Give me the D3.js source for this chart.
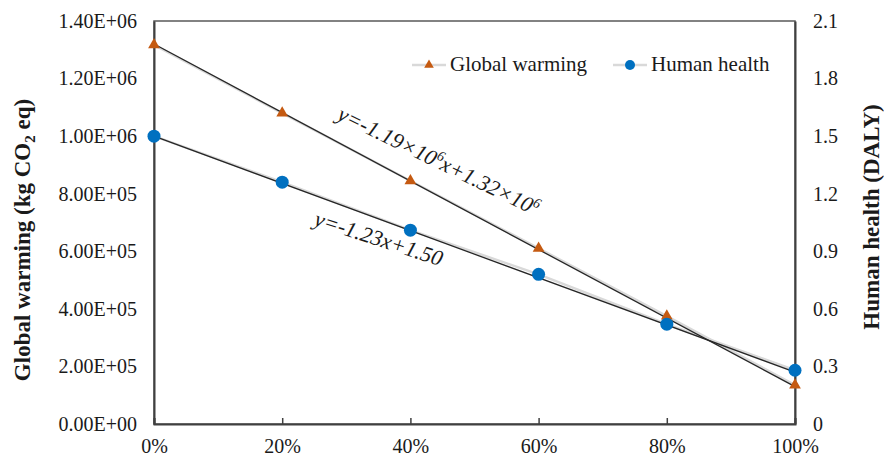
<!DOCTYPE html>
<html>
<head>
<meta charset="utf-8">
<script src="https://cdn.jsdelivr.net/npm/d3@7"></script>
<style>
  body { margin: 0; background: #fff; }
  text { font-family: "Liberation Serif", "Times New Roman", serif; fill: #1a1a1a; }
</style>
</head>
<body>
<svg id="chart" width="884" height="456"></svg>
<script>
// Data
var shares = [0, 0.2, 0.4, 0.6, 0.8, 1.0]
var shareLabels = ['0%', '20%', '40%', '60%', '80%', '100%']
var warming = [1.317e6, 1.08e6, 8.45e5, 6.1e5, 3.75e5, 1.35e5]
var health = [1.50, 1.26, 1.01, 0.78, 0.52, 0.28]
var leftTicks = [0, 2e5, 4e5, 6e5, 8e5, 1e6, 1.2e6, 1.4e6]
var rightTicks = [0, 0.3, 0.6, 0.9, 1.2, 1.5, 1.8, 2.1]
// trendline coefficients shown on the chart [slope, intercept]
var warmingFit = [-1.19e6, 1.32e6]
var healthFit = [-1.23, 1.50]

var svg = d3.select('#chart')
var plotL = 154, plotR = 795, plotT = 21, plotB = 424

var x = d3.scaleLinear().domain([0, 1]).range([plotL, plotR])
var yL = d3.scaleLinear().domain([0, 1.4e6]).range([plotB, plotT])
var yR = d3.scaleLinear().domain([0, 2.1]).range([plotB, plotT])

var orange = '#c55a11', blue = '#0070c0'

// frame
svg.append('rect')
  .attr('x', plotL).attr('y', plotT)
  .attr('width', plotR - plotL).attr('height', plotB - plotT)
  .attr('fill', 'none').attr('stroke', '#595959').attr('stroke-width', 1.5)

// left axis
var axL = svg.append('g').attr('transform', 'translate(' + plotL + ',0)')
  .call(d3.axisLeft(yL).tickValues(leftTicks).tickSize(0).tickPadding(17)
    .tickFormat(function (d) {
      var s = d.toExponential(2).toUpperCase()
      return s.replace(/E([+-])(\d)$/, 'E$10$2')
    }))
axL.select('.domain').attr('stroke', '#404040').attr('stroke-width', 2)
axL.selectAll('text').style('font-size', '20px').attr('fill', '#1a1a1a')

// right axis
var axR = svg.append('g').attr('transform', 'translate(' + plotR + ',0)')
  .call(d3.axisRight(yR).tickValues(rightTicks).tickSize(0).tickPadding(18)
    .tickFormat(function (d) { return d === 0 ? '0' : d3.format('.1f')(d) }))
axR.select('.domain').attr('stroke', '#404040').attr('stroke-width', 2)
axR.selectAll('text').style('font-size', '20px').attr('fill', '#1a1a1a')

// bottom axis, ticks pointing inward
var axB = svg.append('g').attr('transform', 'translate(0,' + plotB + ')')
  .call(d3.axisBottom(x).tickValues(shares).tickSize(-6).tickPadding(14)
    .tickFormat(function (d, i) { return shareLabels[i] }))
axB.select('.domain').attr('stroke', '#404040').attr('stroke-width', 2)
axB.selectAll('line').attr('stroke', '#404040').attr('stroke-width', 1.5)
axB.selectAll('text').style('font-size', '20px').attr('fill', '#1a1a1a').attr('dy', '0.75em')

// axis titles
var tl = svg.append('text')
  .attr('transform', 'translate(30,240) rotate(-90)')
  .attr('text-anchor', 'middle')
  .style('font-size', '23px').style('font-weight', 'bold')
tl.append('tspan').text('Global warming (kg CO')
tl.append('tspan').text('2').style('font-size', '15px').attr('dy', 5)
tl.append('tspan').text(' eq)').attr('dy', -5)

svg.append('text')
  .attr('transform', 'translate(879,217) rotate(-90)')
  .attr('text-anchor', 'middle')
  .style('font-size', '23px').style('font-weight', 'bold')
  .text('Human health (DALY)')

// series lines (light gray)
var lineL = d3.line().x(function (d, i) { return x(shares[i]) }).y(function (d) { return yL(d) })
var lineR = d3.line().x(function (d, i) { return x(shares[i]) }).y(function (d) { return yR(d) })
svg.append('path').attr('d', lineL(warming)).attr('fill', 'none').attr('stroke', '#d9d9d9').attr('stroke-width', 2.5)
svg.append('path').attr('d', lineR(health)).attr('fill', 'none').attr('stroke', '#d9d9d9').attr('stroke-width', 2.5)

// trendlines
svg.append('line')
  .attr('x1', x(0)).attr('y1', yL(warmingFit[1]))
  .attr('x2', x(1)).attr('y2', yL(warmingFit[0] + warmingFit[1]))
  .attr('stroke', '#262626').attr('stroke-width', 1.3)
svg.append('line')
  .attr('x1', x(0)).attr('y1', yR(healthFit[1]))
  .attr('x2', x(1)).attr('y2', yR(healthFit[0] + healthFit[1]))
  .attr('stroke', '#262626').attr('stroke-width', 1.3)

// markers
var tri = d3.symbol().type(d3.symbolTriangle).size(60)
svg.append('g').selectAll('path').data(warming).enter().append('path')
  .attr('d', tri)
  .attr('transform', function (d, i) { return 'translate(' + x(shares[i]) + ',' + yL(d) + ')' })
  .attr('fill', orange)
svg.append('g').selectAll('circle').data(health).enter().append('circle')
  .attr('cx', function (d, i) { return x(shares[i]) })
  .attr('cy', function (d) { return yR(d) })
  .attr('r', 6.5)
  .attr('fill', blue)

// equations
var eq1 = svg.append('text')
  .attr('transform', 'translate(336,119) rotate(26)')
  .style('font-size', '22px').style('font-style', 'italic')
eq1.append('tspan').text('y=-1.19\u00d710')
eq1.append('tspan').text('6').style('font-size', '14px').attr('dy', -8)
eq1.append('tspan').text('x+1.32\u00d710').attr('dy', 8)
eq1.append('tspan').text('6').style('font-size', '14px').attr('dy', -8)

svg.append('text')
  .attr('transform', 'translate(313,225) rotate(18)')
  .style('font-size', '22px').style('font-style', 'italic')
  .text('y=-1.23x+1.50')

// legend
var legend = svg.append('g')
var legItems = [
  { name: 'Global warming', x0: 412, kind: 'tri', color: orange },
  { name: 'Human health', x0: 613, kind: 'circle', color: blue }
]
legItems.forEach(function (it) {
  legend.append('line')
    .attr('x1', it.x0).attr('x2', it.x0 + 34).attr('y1', 65).attr('y2', 65)
    .attr('stroke', '#d9d9d9').attr('stroke-width', 2.5)
  if (it.kind === 'tri') {
    legend.append('path').attr('d', d3.symbol().type(d3.symbolTriangle).size(40))
      .attr('transform', 'translate(' + (it.x0 + 17) + ',65)').attr('fill', it.color)
  } else {
    legend.append('circle').attr('cx', it.x0 + 17).attr('cy', 65).attr('r', 5).attr('fill', it.color)
  }
  legend.append('text').attr('x', it.x0 + 38).attr('y', 71)
    .style('font-size', '21px').text(it.name)
})
</script>
</body>
</html>
